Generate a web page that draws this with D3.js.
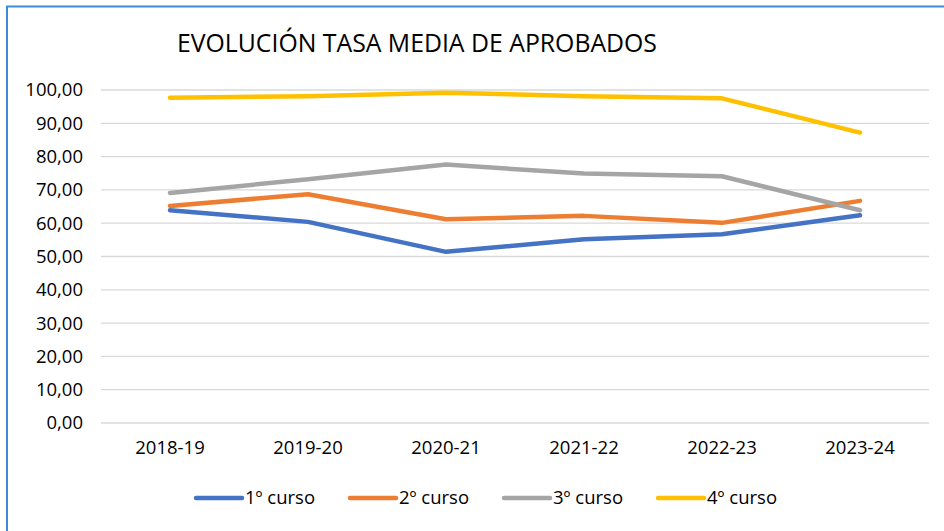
<!DOCTYPE html>
<html lang="es">
<head>
  <meta charset="UTF-8">
  <title>Evolución tasa media de aprobados</title>
  <script src="https://cdn.jsdelivr.net/npm/d3@7"></script>
  <style>
    html, body { margin: 0; padding: 0; background: #fff; }
    svg { display: block; font-family: "Open Sans", sans-serif; }
  </style>
</head>
<body>
<svg id="chart"></svg>
<script>
  // data
  const years = ["2018-19", "2019-20", "2020-21", "2021-22", "2022-23", "2023-24"]
  const curso1 = [63.9, 60.4, 51.4, 55.2, 56.7, 62.4]
  const curso2 = [65.2, 68.7, 61.2, 62.2, 60.1, 66.7]
  const curso3 = [69.1, 73.2, 77.6, 74.9, 74.1, 63.9]
  const curso4 = [97.7, 98.1, 99.2, 98.1, 97.5, 87.2]
  const seriesNames = ["1º curso", "2º curso", "3º curso", "4º curso"]
  const yTicks = [0, 10, 20, 30, 40, 50, 60, 70, 80, 90, 100]

  const colors = ["#4472c4", "#ed7d31", "#a5a5a5", "#ffc000"]
  const series = [curso1, curso2, curso3, curso4].map((values, i) => ({
    name: seriesNames[i], values, color: colors[i]
  }))

  const width = 944
  const height = 531
  const margin = { top: 90, right: 15, bottom: 108, left: 101 }

  const svg = d3.select("#chart")
    .attr("width", width)
    .attr("height", height)

  // chart frame (only top and left edges show in the crop)
  svg.append("path")
    .attr("d", `M7,${height} L7,6.5 L${width},6.5`)
    .attr("fill", "none")
    .attr("stroke", "#3d8bd3")
    .attr("stroke-width", 2)

  svg.append("text")
    .attr("x", 177)
    .attr("y", 52)
    .attr("font-size", 24.8)
    .attr("fill", "#000")
    .text("EVOLUCIÓN TASA MEDIA DE APROBADOS")

  const x = d3.scaleBand()
    .domain(years)
    .range([margin.left, width - margin.right])

  const y = d3.scaleLinear()
    .domain([0, 100])
    .range([height - margin.bottom, margin.top])

  // gridlines
  svg.append("g")
    .selectAll("line")
    .data(yTicks)
    .join("line")
    .attr("x1", margin.left)
    .attr("x2", width - margin.right)
    .attr("y1", d => y(d))
    .attr("y2", d => y(d))
    .attr("stroke", "#d9d9d9")
    .attr("stroke-width", 1.3)

  const fmt = d => d3.format(".2f")(d).replace(".", ",")

  const yAxis = svg.append("g")
    .attr("transform", `translate(${margin.left},0)`)
    .call(d3.axisLeft(y).tickValues(yTicks).tickFormat(fmt).tickSize(0).tickPadding(18))
  yAxis.select(".domain").remove()
  yAxis.selectAll("text")
    .attr("font-size", 18.5)
    .attr("font-family", "Open Sans, sans-serif")
    .attr("fill", "#000")

  const xAxis = svg.append("g")
    .attr("transform", `translate(0,${y(0)})`)
    .call(d3.axisBottom(x).tickSize(0).tickPadding(18))
  xAxis.select(".domain").remove()
  xAxis.selectAll("text")
    .attr("font-size", 18.5)
    .attr("font-family", "Open Sans, sans-serif")
    .attr("fill", "#000")

  const line = d3.line()
    .x((d, i) => x(years[i]) + x.bandwidth() / 2)
    .y(d => y(d))

  svg.append("g")
    .selectAll("path")
    .data(series)
    .join("path")
    .attr("d", d => line(d.values))
    .attr("fill", "none")
    .attr("stroke", d => d.color)
    .attr("stroke-width", 4.5)
    .attr("stroke-linecap", "round")
    .attr("stroke-linejoin", "round")

  // legend
  const legend = svg.append("g").attr("transform", "translate(194,498)")
  let lx = 0
  series.forEach(s => {
    legend.append("line")
      .attr("x1", lx + 2).attr("x2", lx + 48)
      .attr("y1", 0).attr("y2", 0)
      .attr("stroke", s.color)
      .attr("stroke-width", 4.5)
      .attr("stroke-linecap", "round")
    const t = legend.append("text")
      .attr("x", lx + 51)
      .attr("y", 0)
      .attr("dy", "0.35em")
      .attr("font-size", 18.5)
      .attr("fill", "#000")
      .text(s.name)
    lx += 51 + t.node().getComputedTextLength() + 33
  })
</script>
</body>
</html>
